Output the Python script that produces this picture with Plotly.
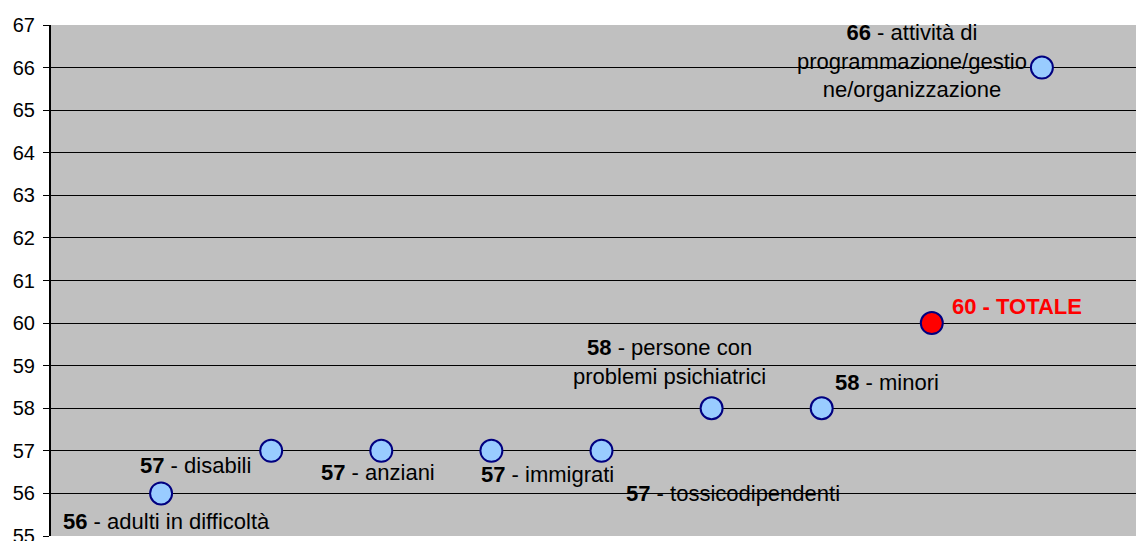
import plotly.graph_objects as go

categories = ["adulti in difficoltà", "disabili", "anziani", "immigrati",
              "tossicodipendenti", "persone con<br>problemi psichiatrici", "minori",
              "TOTALE", "attività di<br>programmazione/gestio<br>ne/organizzazione"]
values = [56, 57, 57, 57, 57, 58, 58, 60, 66]
positions = [1, 2, 3, 4, 5, 6, 7, 8, 9]
is_total = [False, False, False, False, False, False, False, True, False]

# label pixel offsets (dx, dy) relative to each point
label_offsets = [(5, -28), (-76, -15), (-3, -22), (56, -24), (131, -43),
                 (-42, 46), (65, 26), (85, 17), (-130, 7)]

FONT = "Liberation Sans, Arial, sans-serif"

fig = go.Figure()
fig.add_trace(go.Scatter(
    x=positions, y=values, mode="markers",
    marker=dict(size=22,
                color=["#FF0000" if t else "#99CCFF" for t in is_total],
                line=dict(color="#000080", width=2)),
    hoverinfo="skip", showlegend=False,
))

for xv, yv, cat, tot, (dx, dy) in zip(positions, values, categories, is_total, label_offsets):
    if tot:
        txt = f"<b>{yv} - {cat}</b>"
        col = "#FF0000"
    else:
        txt = f"<b>{yv}</b> - {cat}"
        col = "#000000"
    fig.add_annotation(x=xv, y=yv, xref="x", yref="y", text=txt, showarrow=False,
                       xshift=dx, yshift=dy, align="center",
                       font=dict(family=FONT, size=22, color=col))

fig.update_layout(
    width=1144, height=538,
    margin=dict(l=43, r=0, t=17, b=10),
    paper_bgcolor="white", plot_bgcolor="#C0C0C0",
    font=dict(family=FONT, size=20, color="black"),
    xaxis=dict(range=[0, 10], showgrid=False, zeroline=False,
               showticklabels=False, ticks="", showline=False),
    yaxis=dict(range=[55, 67], dtick=1, tick0=55, showgrid=True,
               gridcolor="#000000", gridwidth=1, zeroline=False,
               showline=True, linecolor="#000000", linewidth=2,
               ticks="outside", ticklen=6, tickcolor="#000000",
               ticklabelstandoff=4, ticklabeloverflow="allow",
               tickfont=dict(family=FONT, size=20, color="black")),
)

fig.write_html("out.html")
